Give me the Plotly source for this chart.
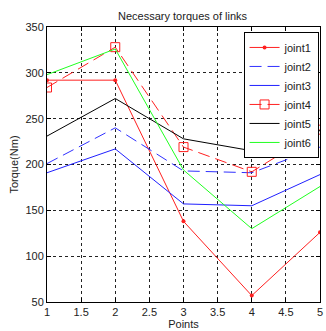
import plotly.graph_objects as go

points = [1, 2, 3, 4, 5]
joint1 = [292, 292, 138, 57, 126]
joint2 = [201, 240, 193, 191, 219]
joint3 = [191, 217, 157, 155, 189]
joint4 = [284, 328, 219, 192, 238]
joint5 = [231, 272, 228, 215, 237]
joint6 = [298, 326, 194, 130, 176]

fig = go.Figure()
fig.add_trace(go.Scatter(x=points, y=joint1, name="joint1", mode="lines+markers",
                         line=dict(color="#ff2020", width=1), marker=dict(symbol="circle", size=4, color="#ff2020")))
fig.add_trace(go.Scatter(x=points, y=joint2, name="joint2", mode="lines",
                         line=dict(color="#3030ff", width=1, dash="12px,6px")))
fig.add_trace(go.Scatter(x=points, y=joint3, name="joint3", mode="lines",
                         line=dict(color="#2020ff", width=1)))
fig.add_trace(go.Scatter(x=points, y=joint4, name="joint4", mode="lines+markers",
                         line=dict(color="#ff2020", width=1, dash="12px,6px"),
                         marker=dict(symbol="square-open", size=9, color="#ff2020", line=dict(width=1))))
fig.add_trace(go.Scatter(x=points, y=joint5, name="joint5", mode="lines",
                         line=dict(color="#000000", width=1)))
fig.add_trace(go.Scatter(x=points, y=joint6, name="joint6", mode="lines",
                         line=dict(color="#20ff20", width=1)))

axis_common = dict(showline=True, linecolor="black", linewidth=1, mirror="ticks",
                   ticks="inside", ticklen=4, tickcolor="black",
                   showgrid=True, gridcolor="#222222", griddash="dot", gridwidth=1,
                   zeroline=False, tickfont=dict(family="Arial, Liberation Sans", size=11, color="#222222"))

fig.update_layout(
    width=326, height=331,
    margin=dict(l=47, r=3, t=27, b=27),
    paper_bgcolor="white", plot_bgcolor="white",
    title=dict(text="Necessary torques of links", x=0.56, xanchor="center", y=0.952, yanchor="middle",
               font=dict(family="Arial, Liberation Sans", size=11, color="#222222")),
    xaxis=dict(range=[1, 5], dtick=0.5, title=dict(text="Points", standoff=2,
               font=dict(family="Arial, Liberation Sans", size=11, color="#222222")), **axis_common),
    yaxis=dict(range=[50, 350], dtick=50, title=dict(text="Torque(Nm)", standoff=4,
               font=dict(family="Arial, Liberation Sans", size=11, color="#222222")), **axis_common),
    legend=dict(x=0.72, y=0.982, xanchor="left", yanchor="top", bgcolor="white",
                bordercolor="black", borderwidth=1, tracegroupgap=0,
                font=dict(family="Arial, Liberation Sans", size=11, color="#222222")),
    showlegend=True,
)

fig.write_html("out.html")
